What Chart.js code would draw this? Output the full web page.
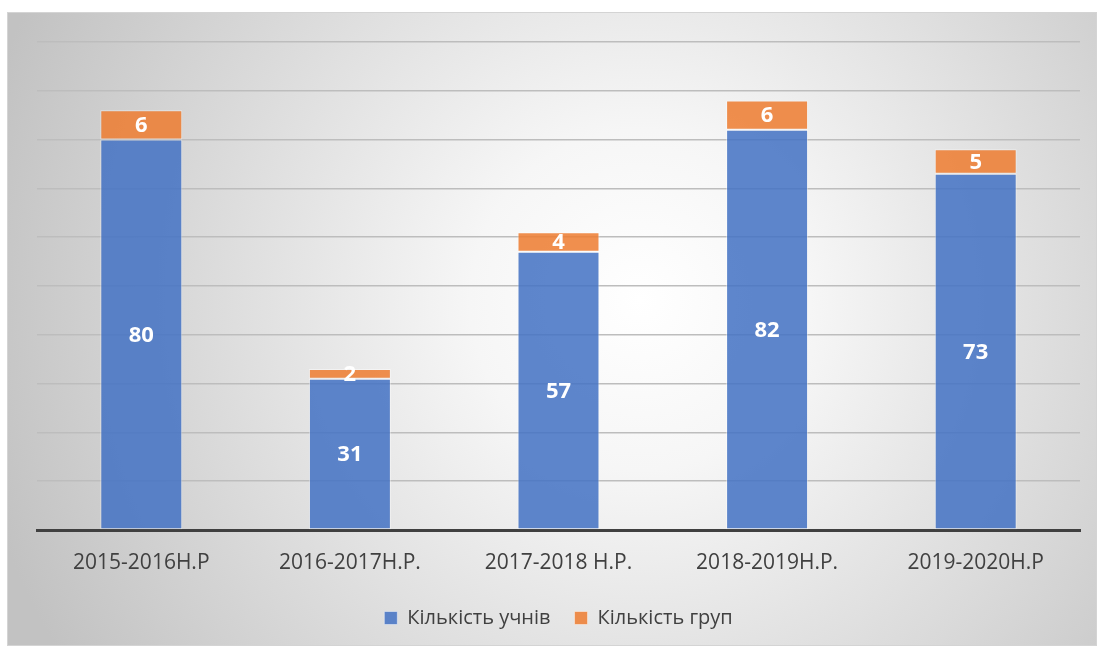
<!DOCTYPE html>
<html>
<head>
<meta charset="utf-8">
<script src="https://cdn.jsdelivr.net/npm/chart.js@4/dist/chart.umd.min.js"></script>
<style>
html,body{margin:0;padding:0;background:#fff;}
#wrap{width:1097px;height:646px;position:relative;}
</style>
</head>
<body>
<div id="wrap"><canvas id="c" width="1097" height="646"></canvas></div>
<script>
const categories = ["2015-2016Н.Р", "2016-2017Н.Р.", "2017-2018 Н.Р.", "2018-2019Н.Р.", "2019-2020Н.Р"];
const students = [80, 31, 57, 82, 73];
const groups = [6, 2, 4, 6, 5];
const seriesNames = ["Кількість учнів", "Кількість груп"];
const yMin = 0, yMax = 100, yStep = 10;

const bgPlugin = {
  id: 'bg',
  beforeDraw(chart) {
    const ctx = chart.ctx;
    ctx.save();
    ctx.fillStyle = '#ffffff';
    ctx.fillRect(0, 0, chart.width, chart.height);
    const x0 = 7, y0 = 12, x1 = chart.width, y1 = chart.height;
    const g = ctx.createRadialGradient(640, 300, 0, 640, 300, 680);
    g.addColorStop(0, '#ffffff');
    g.addColorStop(0.25, '#f6f6f6');
    g.addColorStop(1, '#c2c2c2');
    ctx.fillStyle = g;
    ctx.fillRect(x0, y0, x1 - x0, y1 - y0);
    ctx.strokeStyle = '#d4d4d4';
    ctx.lineWidth = 1;
    ctx.strokeRect(x0 + 0.5, y0 + 0.5, x1 - x0 - 1, y1 - y0 - 1);
    ctx.restore();
  }
};

const labelPlugin = {
  id: 'valueLabels',
  afterDatasetsDraw(chart) {
    const ctx = chart.ctx;
    ctx.save();
    ctx.font = 'bold 22px "Open Sans"';
    ctx.fillStyle = '#ffffff';
    ctx.textAlign = 'center';
    ctx.textBaseline = 'middle';
    chart.data.datasets.forEach((ds, i) => {
      const meta = chart.getDatasetMeta(i);
      meta.data.forEach((el, j) => {
        const p = el.getProps(['x', 'y', 'base'], true);
        ctx.fillText(String(ds.data[j]), p.x, (p.y + p.base) / 2 + 1);
      });
    });
    ctx.restore();
  }
};

new Chart(document.getElementById('c'), {
  type: 'bar',
  data: {
    labels: categories,
    datasets: [
      {
        label: seriesNames[0],
        data: students,
        backgroundColor: 'rgba(68,114,196,0.86)',
        borderColor: 'rgba(255,255,255,0.45)',
        borderWidth: 1,
        borderSkipped: false
      },
      {
        label: seriesNames[1],
        data: groups,
        backgroundColor: 'rgba(237,125,49,0.86)',
        borderColor: 'rgba(255,255,255,0.45)',
        borderWidth: 1,
        borderSkipped: false
      }
    ]
  },
  options: {
    responsive: false,
    animation: false,
    devicePixelRatio: 1,
    layout: { padding: { left: 37, right: 17, top: 42, bottom: 8 } },
    datasets: { bar: { categoryPercentage: 1, barPercentage: 0.393 } },
    scales: {
      x: {
        stacked: true,
        grid: { display: false },
        border: { display: true, color: '#404040', width: 3 },
        ticks: { color: '#404040', font: { family: '"Open Sans"', size: 21 }, padding: 12, maxRotation: 0 },
        afterFit(s) { s.height = 54; }
      },
      y: {
        stacked: true,
        min: yMin, max: yMax,
        ticks: { display: false, stepSize: yStep },
        grid: { color: '#bdbdbd', lineWidth: 1.5, drawTicks: false },
        border: { display: false },
        afterFit(s) { s.width = 0; }
      }
    },
    plugins: {
      legend: {
        position: 'bottom',
        labels: {
          color: '#404040',
          font: { family: '"Open Sans"', size: 20 },
          boxWidth: 13, boxHeight: 13,
          padding: 24,
          useBorderRadius: false
        }
      },
      tooltip: { enabled: false }
    }
  },
  plugins: [bgPlugin, labelPlugin]
});
</script>
</body>
</html>
